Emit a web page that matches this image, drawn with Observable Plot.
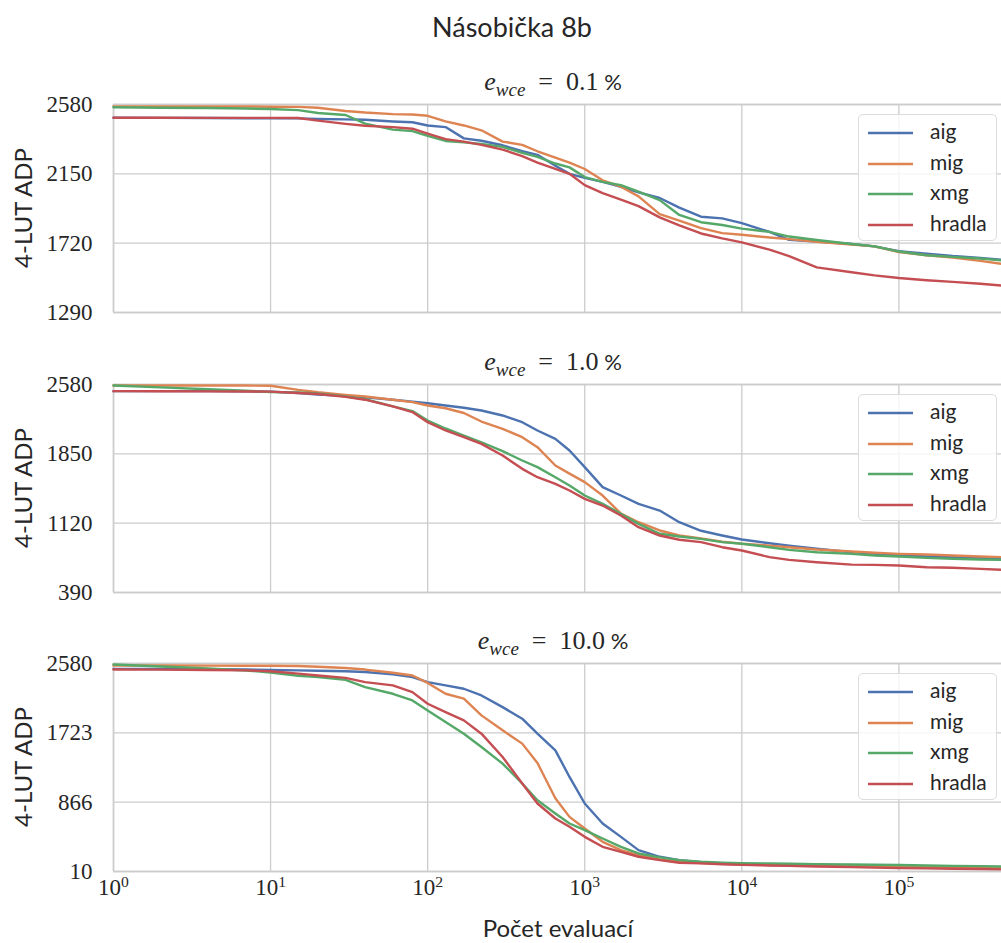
<!DOCTYPE html>
<html>
<head>
<meta charset="utf-8">
<script src="https://cdn.jsdelivr.net/npm/d3@7"></script>
<script src="https://cdn.jsdelivr.net/npm/@observablehq/plot@0.6"></script>
<style>
  body { margin: 0; background: #fff; }
  #fig { position: relative; width: 1001px; height: 943px; overflow: hidden;
         font-family: Lato, "Open Sans", sans-serif; color: #262626; }
  #fig svg.panel { position: absolute; left: 0; }
  .suptitle { position: absolute; left: 362px; width: 300px; top: 11px; text-align: center;
              font-size: 27px; line-height: 32px; }
  .ptitle { position: absolute; left: 403px; width: 300px; text-align: center; font-size: 22px;
            line-height: 28px; white-space: nowrap; }
  .ptitle .m { font-family: "Liberation Serif", "DejaVu Serif", serif; font-size: 26px; }
  .ptitle sub { font-size: 19px; vertical-align: -6px; line-height: 0; }
  .ylab { position: absolute; left: -77px; width: 200px; height: 28px; line-height: 28px;
          text-align: center; font-size: 24px; transform: rotate(-90deg); }
  .xlab { position: absolute; left: 408px; width: 300px; top: 913px; text-align: center;
          font-size: 24px; line-height: 30px; }
  .legend { position: absolute; left: 858px; width: 139px; height: 127px; box-sizing: border-box;
            border: 1.3px solid #dcdcdc; border-radius: 5px; background: rgba(255,255,255,0.8); }
  .legend .row { position: absolute; left: 0; height: 30px; width: 139px; }
  .legend .row svg { position: absolute; left: 8px; top: 13px; }
  .legend .row span { position: absolute; left: 71px; top: 1px; font-size: 21px; line-height: 26px; }
</style>
</head>
<body>
<div id="fig"></div>
<script>
// Evaluation counts at which the best ADP of each run was logged
const evaluations = [1, 2, 4, 7, 10, 15, 20, 30, 40, 60, 80, 100, 130, 170, 220, 300, 400, 500, 650, 800,
  1000, 1300, 1700, 2200, 3000, 4000, 5500, 7500, 10000, 15000, 20000, 30000, 50000, 70000,
  100000, 150000, 220000, 330000, 450000];

const seriesNames = ["aig", "mig", "xmg", "hradla"];
const seriesColors = ["#4c72b0", "#dd8452", "#55a868", "#c44e52"];

// e_wce = 0.1 %
const wce01_aig = [2498, 2497, 2496, 2495, 2495, 2494, 2490, 2488, 2485, 2475, 2470, 2450, 2440, 2370, 2355, 2327, 2290, 2268, 2200, 2150,
  2125, 2100, 2070, 2035, 2000, 1940, 1884, 1874, 1844, 1790, 1741, 1730, 1715, 1700, 1670, 1655, 1640, 1628, 1617];
const wce01_mig = [2568, 2568, 2568, 2568, 2566, 2565, 2560, 2540, 2530, 2520, 2518, 2510, 2475, 2450, 2420, 2350, 2330, 2290, 2250, 2220,
  2180, 2110, 2070, 2010, 1900, 1860, 1813, 1782, 1772, 1755, 1745, 1728, 1712, 1700, 1665, 1645, 1630, 1610, 1592];
const wce01_xmg = [2563, 2560, 2558, 2555, 2552, 2545, 2527, 2515, 2461, 2424, 2415, 2385, 2354, 2345, 2335, 2317, 2280, 2255, 2214, 2190,
  2130, 2100, 2080, 2039, 1987, 1895, 1850, 1833, 1810, 1790, 1761, 1740, 1715, 1700, 1668, 1645, 1635, 1625, 1613];
const wce01_hradla = [2498, 2498, 2497, 2497, 2497, 2496, 2480, 2460, 2448, 2440, 2430, 2400, 2365, 2350, 2330, 2300, 2260, 2220, 2180, 2150,
  2080, 2030, 1990, 1950, 1880, 1830, 1780, 1750, 1725, 1680, 1640, 1570, 1540, 1520, 1504, 1490, 1480, 1468, 1457];

// e_wce = 1.0 %
const wce1_aig = [2510, 2510, 2510, 2508, 2505, 2490, 2475, 2460, 2446, 2420, 2400, 2383, 2359, 2335, 2306, 2254, 2183, 2096, 2008, 1885,
  1710, 1499, 1411, 1324, 1253, 1130, 1040, 990, 948, 909, 884, 850, 814, 797, 779, 769, 762, 755, 745];
const wce1_mig = [2569, 2569, 2569, 2569, 2567, 2524, 2499, 2471, 2454, 2419, 2394, 2359, 2330, 2280, 2190, 2113, 2025, 1920, 1727, 1642,
  1552, 1411, 1221, 1130, 1043, 990, 958, 925, 905, 884, 867, 842, 822, 808, 797, 790, 779, 769, 762];
const wce1_xmg = [2569, 2550, 2530, 2515, 2500, 2495, 2485, 2455, 2425, 2350, 2300, 2201, 2117, 2043, 1972, 1878, 1780, 1710, 1604, 1517,
  1411, 1324, 1218, 1113, 1008, 980, 955, 920, 903, 867, 839, 814, 797, 779, 769, 755, 745, 737, 734];
const wce1_hradla = [2510, 2509, 2508, 2507, 2505, 2490, 2480, 2450, 2420, 2350, 2290, 2183, 2096, 2025, 1955, 1832, 1692, 1604, 1534, 1464,
  1376, 1306, 1201, 1078, 990, 945, 920, 867, 832, 762, 734, 709, 684, 681, 674, 656, 650, 639, 629];

// e_wce = 10.0 %
const wce10_aig = [2514, 2512, 2510, 2505, 2500, 2495, 2490, 2485, 2475, 2445, 2412, 2350, 2309, 2268, 2185, 2041, 1898, 1713, 1507, 1178,
  850, 603, 438, 274, 192, 151, 125, 112, 100, 95, 92, 88, 84, 80, 76, 72, 68, 64, 60];
const wce10_mig = [2555, 2555, 2554, 2553, 2552, 2550, 2540, 2525, 2505, 2465, 2432, 2340, 2206, 2145, 1939, 1754, 1590, 1350, 915, 685,
  542, 377, 274, 213, 159, 130, 115, 105, 95, 90, 86, 82, 78, 74, 70, 66, 60, 56, 52];
const wce10_xmg = [2568, 2543, 2518, 2494, 2469, 2428, 2412, 2379, 2288, 2206, 2124, 2000, 1857, 1713, 1548, 1343, 1097, 891, 727, 603,
  521, 418, 315, 233, 184, 151, 130, 120, 112, 108, 105, 100, 96, 93, 90, 85, 80, 76, 72];
const wce10_hradla = [2506, 2504, 2500, 2495, 2485, 2455, 2432, 2403, 2350, 2309, 2226, 2083, 1980, 1877, 1713, 1425, 1097, 850, 665, 562,
  438, 315, 253, 192, 151, 118, 110, 100, 92, 85, 80, 72, 64, 58, 52, 48, 44, 40, 36];

const wceLabels = ["0.1", "1.0", "10.0"];
const yTicks = [
  [1290, 1720, 2150, 2580],
  [390, 1120, 1850, 2580],
  [10, 866, 1723, 2580]
];
const xTicks = [1, 10, 100, 1000, 10000, 100000];

const panelSeries = [
  [wce01_aig, wce01_mig, wce01_xmg, wce01_hradla],
  [wce1_aig, wce1_mig, wce1_xmg, wce1_hradla],
  [wce10_aig, wce10_mig, wce10_xmg, wce10_hradla]
];

// layout: top of each plot frame and its height
const frameTops = [104, 384, 663];
const frameH = 208;
const padTop = 10;

const fig = document.getElementById("fig");
const ns = "http://www.w3.org/2000/svg";

const sup = document.createElement("div");
sup.className = "suptitle";
sup.textContent = "Násobička 8b";
fig.appendChild(sup);

panelSeries.forEach((group, p) => {
  const rows = [];
  group.forEach((values, s) => {
    evaluations.forEach((e, i) => rows.push({evals: e, adp: values[i], series: seriesNames[s]}));
  });
  const ticks = yTicks[p];
  const lo = ticks[0], hi = ticks[ticks.length - 1];
  const last = p === panelSeries.length - 1;
  const marginBottom = last ? 40 : 4;

  const marks = [
    Plot.gridY(ticks, {stroke: "#cccccc", strokeOpacity: 1, strokeWidth: 1.3}),
    Plot.gridX(xTicks, {stroke: "#cccccc", strokeOpacity: 1, strokeWidth: 1.3}),
    Plot.ruleY([lo, hi], {stroke: "#cccccc", strokeWidth: 1.6}),
    Plot.ruleX([1], {stroke: "#cccccc", strokeWidth: 1.6}),
    Plot.line(rows, {x: "evals", y: "adp", z: "series", stroke: "series", curve: "linear",
                     strokeWidth: 2.4, strokeLinejoin: "round"}),
    Plot.axisY(ticks, {tickSize: 0, tickPadding: 21, label: null, fontSize: 23, tickFormat: d => String(d)})
  ];
  if (last) {
    marks.push(Plot.axisX(xTicks, {tickSize: 0, tickPadding: 7, label: null, fontSize: 23,
      tickFormat: d => String(Math.round(Math.log10(d)))}));
  }

  const chart = Plot.plot({
    width: 1001,
    height: padTop + frameH + marginBottom,
    marginTop: padTop,
    marginBottom,
    marginLeft: 113,
    marginRight: 0,
    style: {fontFamily: "'Liberation Serif', 'DejaVu Serif', serif", fontSize: "23px",
            color: "#262626", background: "transparent", overflow: "visible"},
    x: {type: "log", domain: [1, 450000], axis: last ? undefined : null},
    y: {domain: [lo, hi]},
    color: {domain: seriesNames, range: seriesColors},
    marks
  });
  chart.classList.add("panel");
  chart.style.top = (frameTops[p] - padTop) + "px";
  fig.appendChild(chart);

  // x tick labels as powers of ten
  chart.querySelectorAll('g[aria-label="x-axis tick label"] text').forEach(t => {
    const exp = t.textContent;
    t.textContent = "10";
    const ts = document.createElementNS(ns, "tspan");
    ts.setAttribute("dy", "-0.5em");
    ts.setAttribute("font-size", "0.68em");
    ts.textContent = exp;
    t.appendChild(ts);
  });

  // panel title
  const title = document.createElement("div");
  title.className = "ptitle";
  title.style.top = (frameTops[p] - 36) + "px";
  title.innerHTML = '<span class="m"><i>e</i><sub><i>wce</i></sub>&#8194;=&#8194;' + wceLabels[p] + '</span> %';
  fig.appendChild(title);

  // y axis label
  const yl = document.createElement("div");
  yl.className = "ylab";
  yl.style.top = (frameTops[p] + frameH / 2 - 14) + "px";
  yl.textContent = "4-LUT ADP";
  fig.appendChild(yl);

  // legend
  const lg = document.createElement("div");
  lg.className = "legend";
  lg.style.top = (frameTops[p] + 10) + "px";
  seriesNames.forEach((name, s) => {
    const row = document.createElement("div");
    row.className = "row";
    row.style.top = (2 + s * 30.5) + "px";
    const sw = document.createElementNS(ns, "svg");
    sw.setAttribute("width", 48);
    sw.setAttribute("height", 6);
    const ln = document.createElementNS(ns, "line");
    ln.setAttribute("x1", 1); ln.setAttribute("x2", 46);
    ln.setAttribute("y1", 3); ln.setAttribute("y2", 3);
    ln.setAttribute("stroke", seriesColors[s]);
    ln.setAttribute("stroke-width", 2.6);
    sw.appendChild(ln);
    const tx = document.createElement("span");
    tx.textContent = name;
    row.appendChild(sw);
    row.appendChild(tx);
    lg.appendChild(row);
  });
  fig.appendChild(lg);
});

const xl = document.createElement("div");
xl.className = "xlab";
xl.textContent = "Počet evaluací";
fig.appendChild(xl);
</script>
</body>
</html>
